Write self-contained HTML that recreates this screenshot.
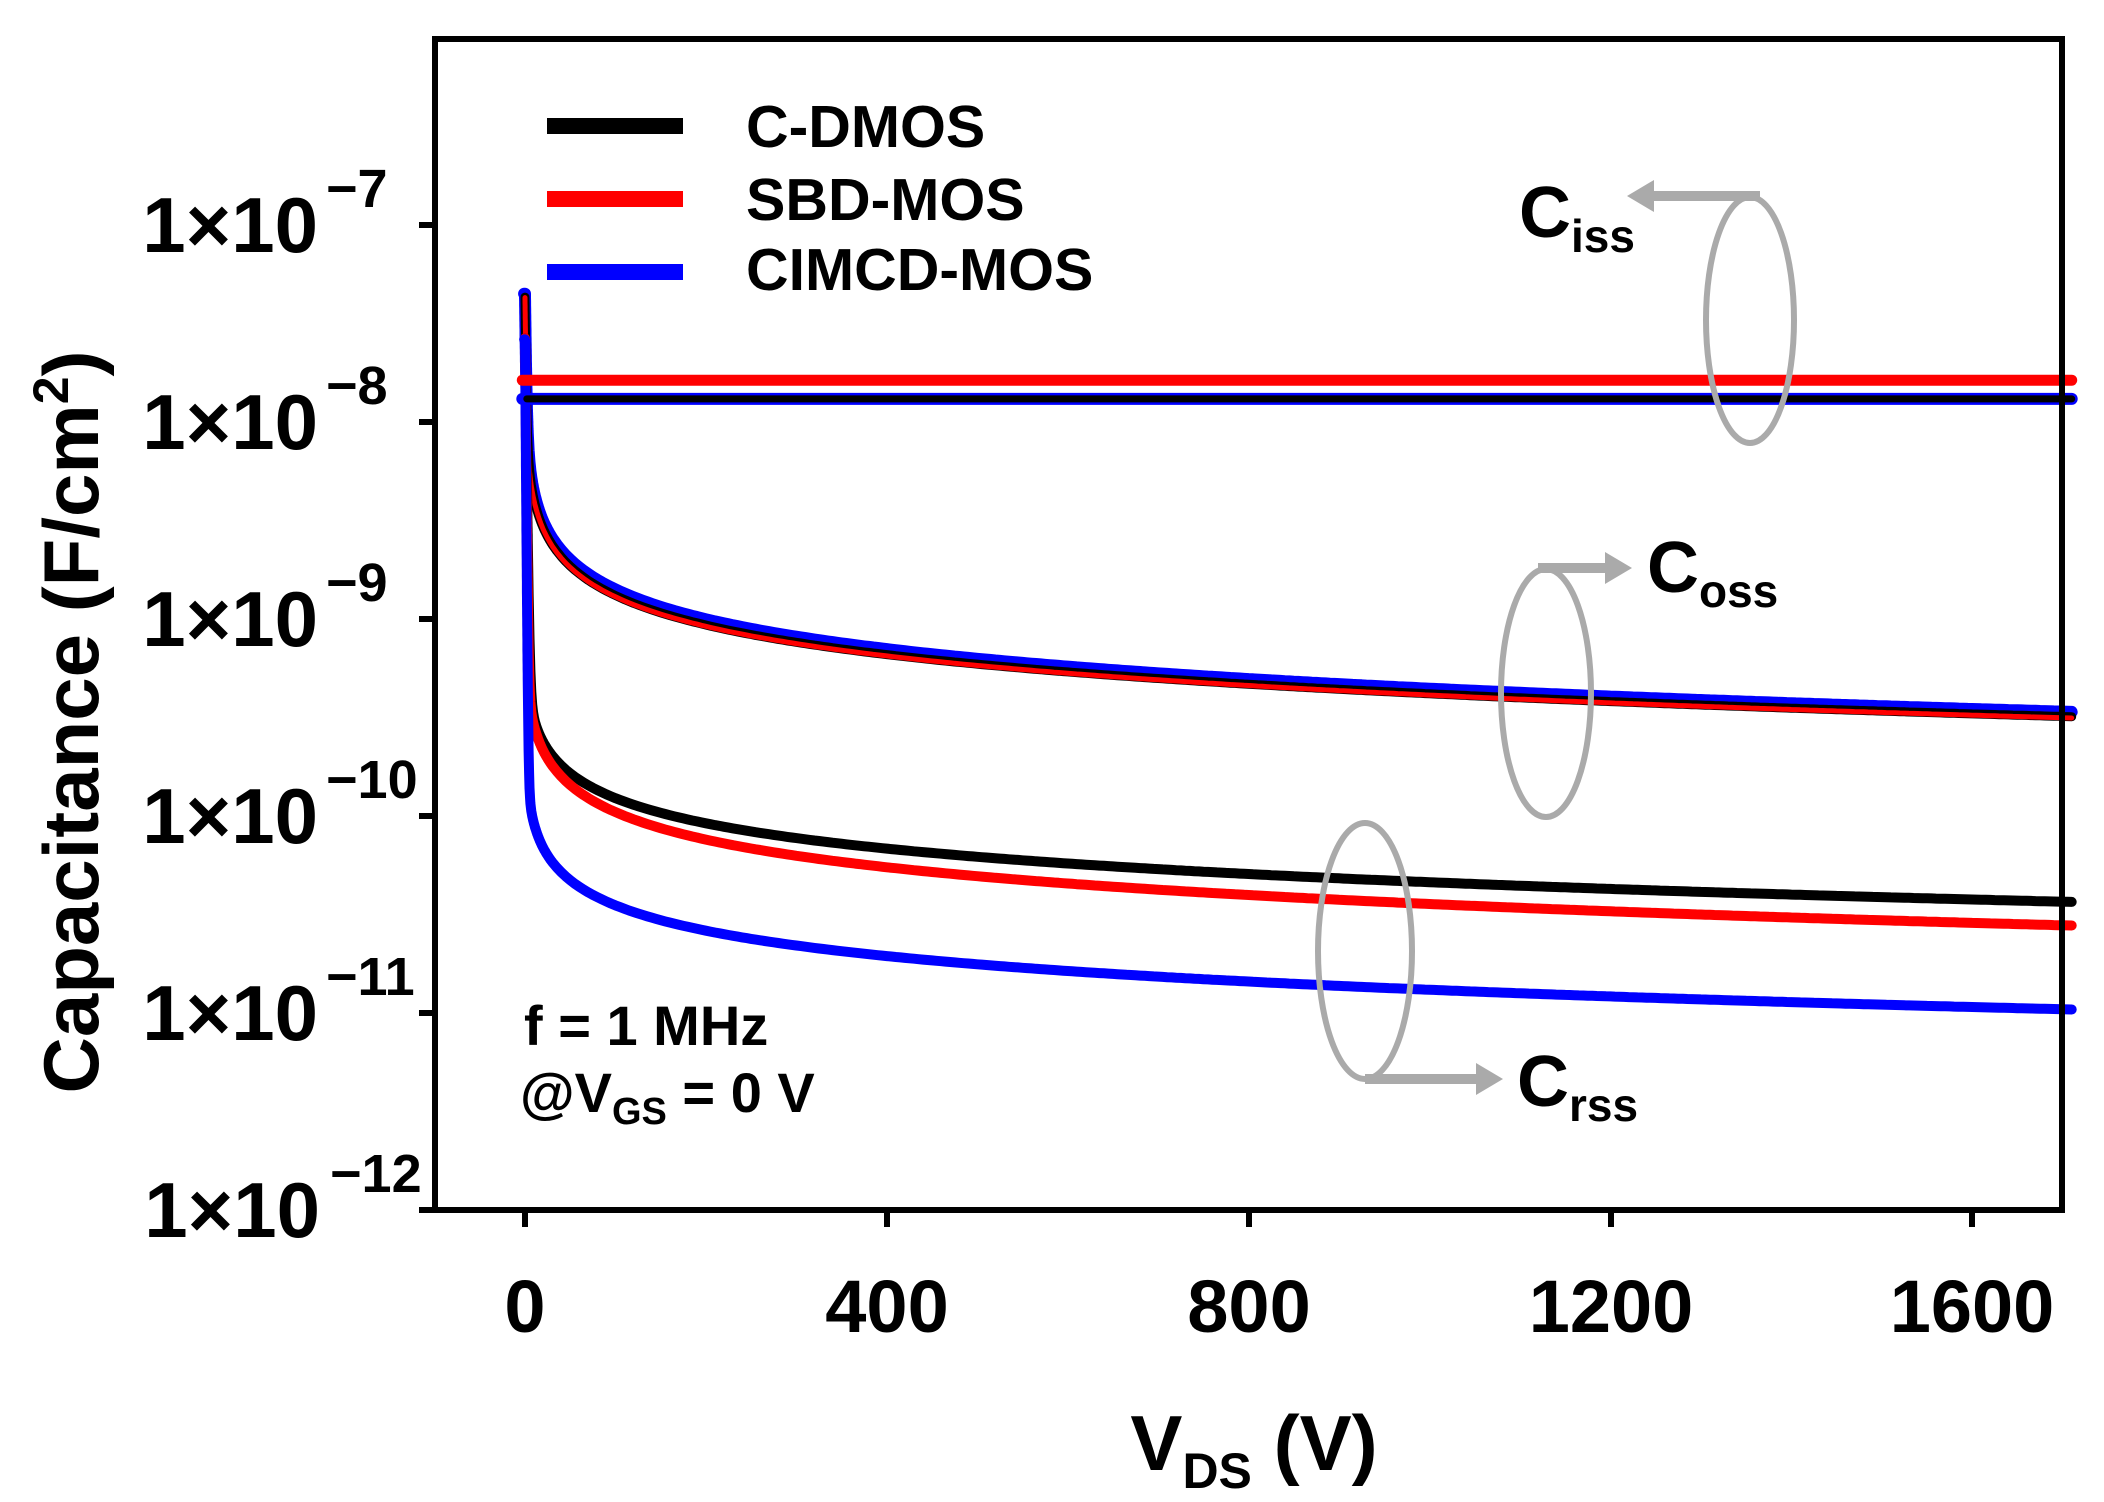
<!DOCTYPE html>
<html><head><meta charset="utf-8"><style>
html,body{margin:0;padding:0;background:#fff;}
svg{display:block;font-family:"Liberation Sans",Arial,sans-serif;font-weight:bold;}
</style></head><body>
<svg id="s" width="2104" height="1502" viewBox="0 0 2104 1502" xmlns="http://www.w3.org/2000/svg">
<rect width="2104" height="1502" fill="#fff"/>
<g id="curves" fill="none" stroke-linejoin="round" stroke-linecap="round"></g>
<rect x="435" y="39" width="1627" height="1171" fill="none" stroke="#000" stroke-width="6"/>
<g stroke="#000" stroke-width="6">
<line x1="419" y1="225" x2="435" y2="225"/><line x1="419" y1="422" x2="435" y2="422"/>
<line x1="419" y1="619" x2="435" y2="619"/><line x1="419" y1="816" x2="435" y2="816"/>
<line x1="419" y1="1013" x2="435" y2="1013"/><line x1="419" y1="1210" x2="435" y2="1210"/>
<line x1="525" y1="1210" x2="525" y2="1227"/><line x1="887" y1="1210" x2="887" y2="1227"/>
<line x1="1249" y1="1210" x2="1249" y2="1227"/><line x1="1611" y1="1210" x2="1611" y2="1227"/>
<line x1="1972" y1="1210" x2="1972" y2="1227"/>
</g>
<g font-size="78" text-anchor="end">
<text x="318" y="252">1×10</text><text x="318" y="449">1×10</text><text x="318" y="646">1×10</text>
<text x="318" y="843">1×10</text><text x="318" y="1040">1×10</text><text x="320" y="1237">1×10</text>
</g>
<g font-size="54">
<text x="326" y="207">−7</text><text x="326" y="404">−8</text><text x="326" y="601">−9</text>
<text x="326" y="798">−10</text><text x="326" y="995">−11</text><text x="330" y="1192">−12</text>
</g>
<g font-size="74" text-anchor="middle">
<text x="525" y="1332">0</text><text x="887" y="1332">400</text><text x="1249" y="1332">800</text>
<text x="1611" y="1332">1200</text><text x="1972" y="1332">1600</text>
</g>
<text x="1254" y="1470" font-size="78" text-anchor="middle">V<tspan font-size="50" dy="18">DS</tspan><tspan dy="-18"> (V)</tspan></text>
<text transform="translate(98,722) rotate(-90)" font-size="78" text-anchor="middle">Capacitance (F/cm<tspan font-size="50" dy="-30">2</tspan><tspan dy="30">)</tspan></text>
<g stroke-width="16">
<line x1="547" y1="126" x2="683" y2="126" stroke="#000"/>
<line x1="547" y1="199" x2="683" y2="199" stroke="#f00"/>
<line x1="547" y1="272" x2="683" y2="272" stroke="#00f"/>
</g>
<g font-size="59">
<text x="746" y="147">C-DMOS</text><text x="746" y="220">SBD-MOS</text><text x="746" y="290">CIMCD-MOS</text>
</g>
<g font-size="56">
<text x="524" y="1045">f = 1 MHz</text>
<text x="520" y="1112">@V<tspan font-size="38" dy="12">GS</tspan><tspan dy="-12"> = 0 V</tspan></text>
</g>
<g fill="none" stroke="#aaa" stroke-width="6">
<ellipse cx="1750" cy="320" rx="44" ry="123"/>
<ellipse cx="1546" cy="693" rx="45" ry="124"/>
<ellipse cx="1365" cy="951" rx="47" ry="128"/>
</g>
<g stroke="#aaa" stroke-width="10" fill="#aaa">
<line x1="1760" y1="196" x2="1650" y2="196"/>
<polygon points="1627,196 1654,180 1654,212" stroke="none"/>
<line x1="1538" y1="568" x2="1610" y2="568"/>
<polygon points="1632,568 1605,552 1605,584" stroke="none"/>
<line x1="1365" y1="1079" x2="1480" y2="1079"/>
<polygon points="1503,1079 1476,1063 1476,1095" stroke="none"/>
</g>
<text x="1519" y="237" font-size="72">C<tspan font-size="46" dy="15">iss</tspan></text>
<text x="1647" y="592" font-size="72">C<tspan font-size="46" dy="15">oss</tspan></text>
<text x="1517" y="1106" font-size="72">C<tspan font-size="46" dy="15">rss</tspan></text>
</svg>
<script>
(function(){
var g=document.getElementById('curves');
function X(v){return 525+v*0.9045;}
function Y(c){return 225+(-7-Math.log10(c))*197;}
function path(f,col,v0,w){
 var d='',vs=[];
 for(var v=v0;v<3;v+=0.05)vs.push(v);
 for(v=3;v<30;v+=0.5)vs.push(v);
 for(v=30;v<=1713;v+=5)vs.push(v);
 vs.forEach(function(v,i){d+=(i?'L':'M')+X(v).toFixed(1)+','+Y(f(Math.max(v,0))).toFixed(1);});
 var p=document.createElementNS('http://www.w3.org/2000/svg','path');
 p.setAttribute('d',d);p.setAttribute('stroke',col);p.setAttribute('stroke-width',w);g.appendChild(p);
}
function pk(v,t){return 2.6e-8*Math.exp(-v/t);}
// Coss
path(function(v){return 1.45e-8*Math.pow(v+0.6,-0.505)+pk(v,1);},'#00f',-1,12);
path(function(v){return 1.32e-8*Math.pow(v+0.6,-0.5)+pk(v,1);},'#000',0,9);
path(function(v){return 1.3e-8*Math.pow(v+0.6,-0.5)+pk(v,0.9);},'#f00',0,5);
// Crss
path(function(v){return 9.0e-10*Math.pow(v+2,-0.43)+pk(v,1.2);},'#000',0,10);
path(function(v){return 9.2e-10*Math.pow(v+2,-0.47)+pk(v,0.9);},'#f00',0,10);
path(function(v){return 2.56e-10*Math.pow(v+1,-0.43)+pk(v,0.7);},'#00f',-1,10);
// Ciss
path(function(v){return 1.31e-8;},'#00f',-3,12);
path(function(v){return 1.31e-8;},'#000',2,7);
path(function(v){return 1.63e-8;},'#f00',-3,11);
})();
</script>
</body></html>
